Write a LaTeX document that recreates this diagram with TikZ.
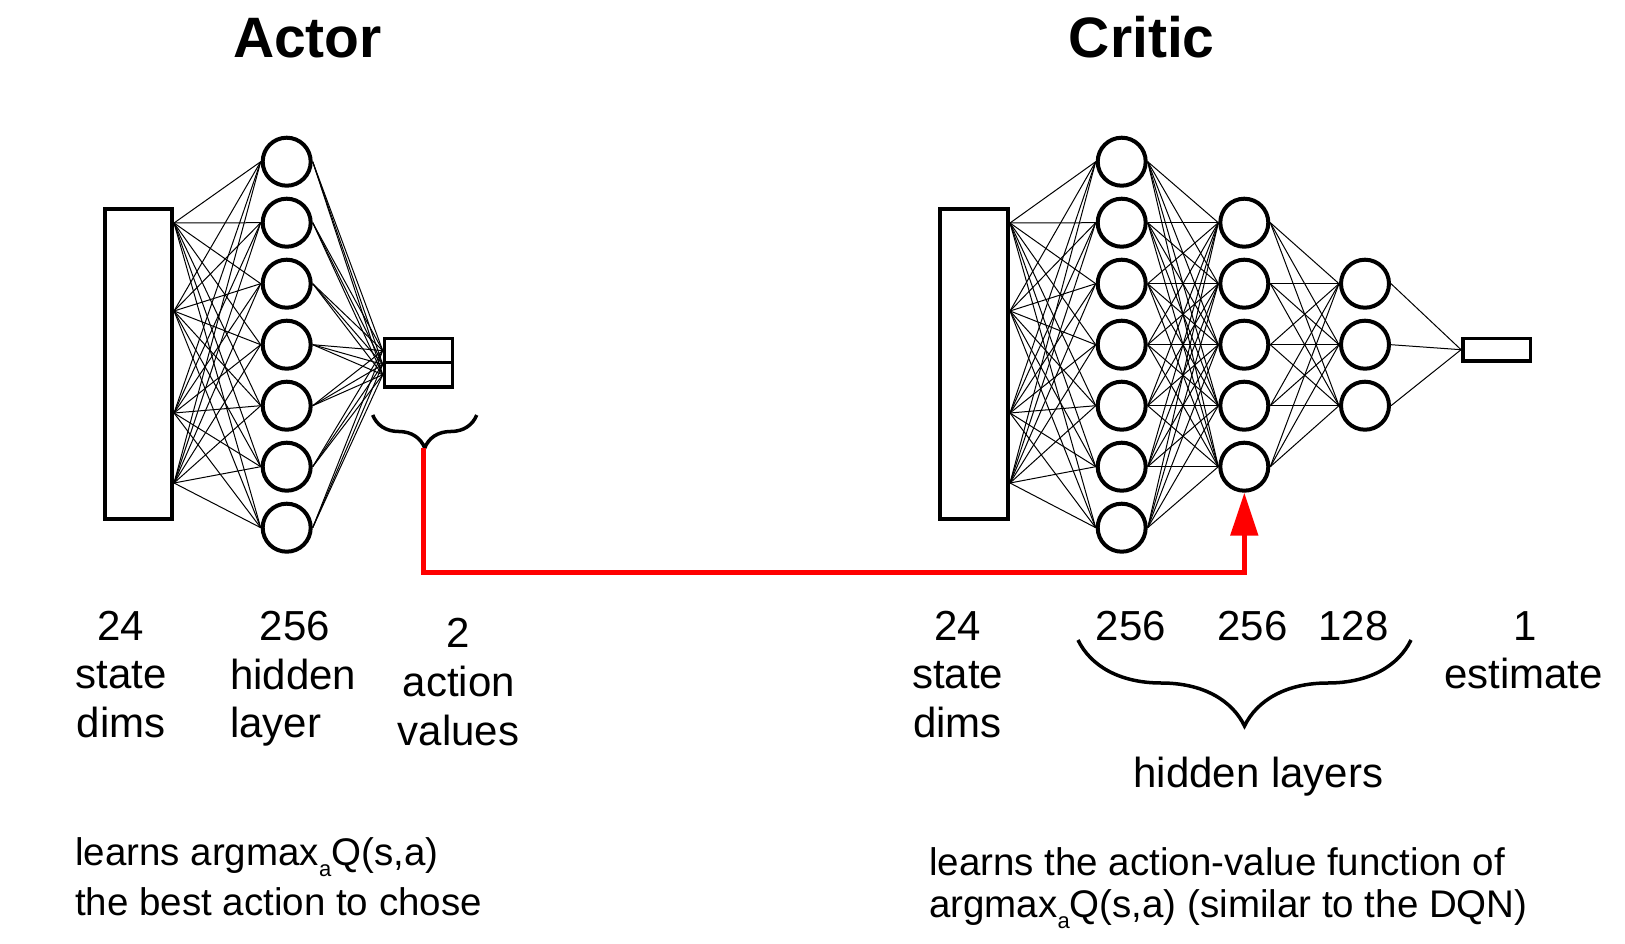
\documentclass[tikz,border=0pt]{standalone}
\usepackage{fontspec}
\setmainfont{Liberation Sans}
\usepackage{tikz}
\usetikzlibrary{arrows.meta,decorations.pathreplacing}

\tikzset{
    neuron/.style={circle, draw, line width=4pt, minimum size=48pt, inner sep=0pt},
    layerbox/.style={draw, line width=4pt, inner sep=0pt},
    outbox/.style={draw, line width=3.5pt, inner sep=0pt},
    wire/.style={line width=1pt},
    curly/.style={line width=3.5pt, decorate, decoration={brace, mirror, amplitude=#1}},
    feed/.style={red, line width=5pt, -{Triangle[length=43pt, width=27pt]}},
    title/.style={font=\fontsize{57}{60}\selectfont\bfseries, inner sep=0pt, anchor=base},
    lbl/.style={font=\fontsize{42}{48}\selectfont, inner sep=0pt, anchor=base},
    note/.style={font=\fontsize{38.5}{46}\selectfont, inner sep=0pt, anchor=base west}
}
\newcommand{\suba}{\raisebox{-11pt}{\fontsize{22}{22}\selectfont a}}

\begin{document}
\begin{tikzpicture}[x=1pt, y=-1pt]
    \useasboundingbox (0,0) rectangle (1625,944);

    % Titles
    \node[title] (actortitle) at (307.5, 57.3) {Actor};
    \node[title] (critictitle) at (1141.7, 57.3) {Critic};

    % Actor network
    \node[layerbox, minimum width=67pt, minimum height=310pt] (ain) at (138.5, 364) {};
    \foreach \p/\y in {1/223, 2/311, 3/413, 4/483} {
        \coordinate (ap\p) at (174, \y);
    }
    \foreach \i in {1,...,7} {
        \node[neuron] (a\i) at (286.7, 100.7+61*\i) {};
    }
    \node[outbox, minimum width=68pt, minimum height=24.2pt] (aout1) at (418.5, 350.6) {};
    \node[outbox, minimum width=68pt, minimum height=24.2pt] (aout2) at (418.5, 374.8) {};
    \foreach \p in {1,...,4} {
        \foreach \i in {1,...,7} {
            \draw[wire] (ap\p) -- (a\i.west);
        }
    }
    \foreach \i in {1,...,7} {
        \foreach \t in {aout1.west, aout1.south west, aout2.west} {
            \draw[wire] (a\i.east) -- (\t);
        }
    }

    % Critic network
    \node[layerbox, minimum width=67.5pt, minimum height=310pt] (cin) at (974, 364) {};
    \foreach \p/\y in {1/223, 2/311, 3/413, 4/483} {
        \coordinate (cp\p) at (1010, \y);
    }
    \foreach \i in {1,...,7} {
        \node[neuron] (ca\i) at (1121.7, 100.7+61*\i) {};
    }
    \foreach \j in {2,...,6} {
        \node[neuron] (cb\j) at (1244.3, 100.7+61*\j) {};
    }
    \foreach \k in {3,4,5} {
        \node[neuron] (cc\k) at (1365, 100.7+61*\k) {};
    }
    \node[outbox, minimum width=67.8pt, minimum height=22.5pt] (cout) at (1496.7, 349.7) {};
    \foreach \p in {1,...,4} {
        \foreach \i in {1,...,7} {
            \draw[wire] (cp\p) -- (ca\i.west);
        }
    }
    \foreach \i in {1,...,7} {
        \foreach \j in {2,...,6} {
            \draw[wire] (ca\i.east) -- (cb\j.west);
        }
    }
    \foreach \j in {2,...,6} {
        \foreach \k in {3,4,5} {
            \draw[wire] (cb\j.east) -- (cc\k.west);
        }
    }
    \foreach \k in {3,4,5} {
        \draw[wire] (cc\k.east) -- (cout.west);
    }

    % Braces and the action feed
    \coordinate (abl) at (372.7, 415);
    \coordinate (abr) at (476.7, 415);
    \coordinate (atip) at (423.3, 448);
    \draw[curly=33pt] (abl) -- (abr);
    \draw[feed] (atip) -- ++(0,124.5) -| (cb6.south);

    \coordinate (cbl) at (1078, 640);
    \coordinate (cbr) at (1411, 640);
    \draw[curly=86pt] (cbl) -- (cbr);

    % Actor labels
    \node[lbl] (as1) at (121, 640) {24};
    \node[lbl] (as2) at (121, 688.5) {state};
    \node[lbl] (as3) at (121, 737) {dims};
    \node[lbl] (ah1) at (295, 640) {256};
    \node[lbl, anchor=base west] (ah2) at (230, 689) {hidden};
    \node[lbl, anchor=base west] (ah3) at (230, 737) {layer};
    \node[lbl] (av1) at (458.5, 647) {2};
    \node[lbl] (av2) at (459, 696.5) {action};
    \node[lbl] (av3) at (458.5, 745) {values};

    % Critic labels
    \node[lbl] (cs1) at (957.6, 640) {24};
    \node[lbl] (cs2) at (957.6, 688.5) {state};
    \node[lbl] (cs3) at (957.6, 737) {dims};
    \node[lbl] (ch1) at (1131, 640) {256};
    \node[lbl] (ch2) at (1252.6, 640) {256};
    \node[lbl] (ch3) at (1353.5, 640) {128};
    \node[lbl] (chl) at (1258.5, 787) {hidden layers};
    \node[lbl] (ce1) at (1525, 640) {1};
    \node[lbl] (ce2) at (1523.6, 688.5) {estimate};

    % Notes
    \node[note] (an1) at (75, 865) {learns argmax\suba Q(s,a)};
    \node[note] (an2) at (75, 915) {the best action to chose};
    \node[note] (cn1) at (929, 875.5) {learns the action-value function of};
    \node[note] (cn2) at (929, 917.5) {argmax\suba Q(s,a) (similar to the DQN)};
\end{tikzpicture}
\end{document}
